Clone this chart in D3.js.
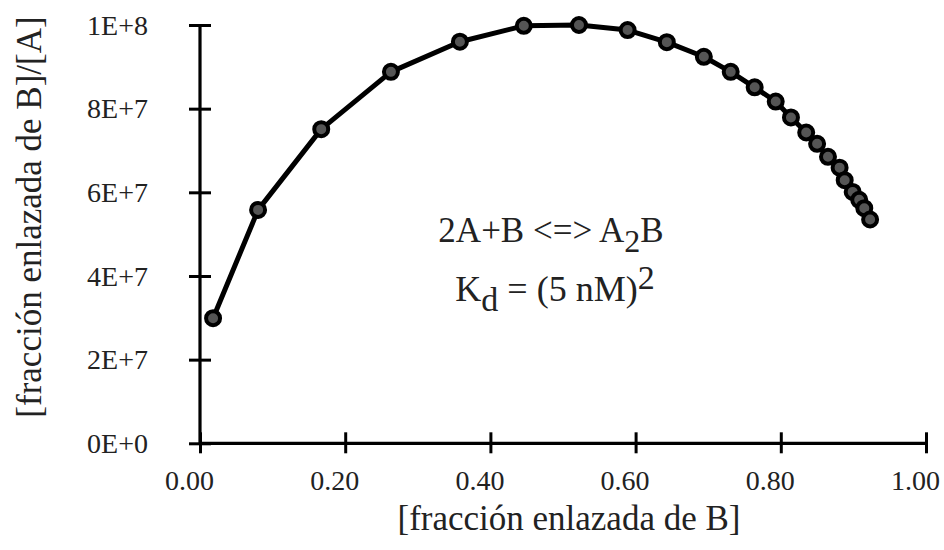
<!DOCTYPE html>
<html>
<head>
<meta charset="utf-8">
<script src="https://cdn.jsdelivr.net/npm/d3@7"></script>
<style>
  html, body { margin: 0; padding: 0; background: #fff; }
  svg text { font-family: "Liberation Serif", "Times New Roman", serif; fill: #222; }
</style>
</head>
<body>
<svg id="chart" width="944" height="550"></svg>
<script>
// Fraction of B bound (x) and bound fraction divided by free [A] (y)
const fractionBound = [0.018, 0.080, 0.167, 0.263, 0.358, 0.446, 0.522, 0.589, 0.643, 0.694,
  0.731, 0.764, 0.793, 0.814, 0.835, 0.850, 0.865, 0.881, 0.888, 0.899, 0.908, 0.915, 0.923];
const boundOverA = [2.99e7, 5.58e7, 7.51e7, 8.88e7, 9.60e7, 9.98e7, 1.0e8, 9.88e7, 9.59e7, 9.24e7,
  8.88e7, 8.51e7, 8.17e7, 7.79e7, 7.43e7, 7.16e7, 6.85e7, 6.59e7, 6.29e7, 6.01e7, 5.82e7, 5.62e7, 5.35e7];

const xTicks = [0, 0.2, 0.4, 0.6, 0.8, 1.0];
const yTicks = [0, 2e7, 4e7, 6e7, 8e7, 1e8];
const yTickLabels = ["0E+0", "2E+7", "4E+7", "6E+7", "8E+7", "1E+8"];

const xTitle = "[fracción enlazada de B]";
const yTitle = "[fracción enlazada de B]/[A]";

const svg = d3.select("#chart");
const plotLeft = 200, plotRight = 926, plotTop = 25, plotBottom = 443.3;

const x = d3.scaleLinear().domain([0, 1]).range([plotLeft, plotRight]);
const y = d3.scaleLinear().domain([0, 1e8]).range([plotBottom, plotTop]);

// Axes: ticks cross the axis line on both sides
const xAxis = d3.axisBottom(x).tickValues(xTicks).tickSize(0).tickFormat(d3.format(".2f"));
const yAxis = d3.axisLeft(y).tickValues(yTicks).tickSize(0)
  .tickFormat(d => yTickLabels[yTicks.indexOf(d)]);

const gx = svg.append("g").attr("transform", `translate(0,${plotBottom})`).call(xAxis);
gx.select(".domain").remove();
gx.selectAll(".tick text").attr("dy", null).attr("y", 47).attr("x", -11)
  .style("font-size", "28px").style("font-family", "Liberation Serif").attr("fill", "#333");
gx.selectAll(".tick").append("line").attr("y1", -11).attr("y2", 10)
  .attr("stroke", "#000").attr("stroke-width", 3);

const gy = svg.append("g").attr("transform", `translate(${plotLeft},0)`).call(yAxis);
gy.select(".domain").remove();
gy.selectAll(".tick text").attr("x", -52).attr("dy", "0.33em")
  .style("font-size", "28px").style("font-family", "Liberation Serif")
  .attr("text-anchor", "end").attr("fill", "#333");
gy.selectAll(".tick").append("line").attr("x1", -11).attr("x2", 11)
  .attr("stroke", "#000").attr("stroke-width", 3);

svg.append("line").attr("x1", plotLeft).attr("x2", plotRight).attr("y1", plotBottom).attr("y2", plotBottom)
  .attr("stroke", "#000").attr("stroke-width", 3.2);
svg.append("line").attr("x1", plotLeft).attr("x2", plotLeft).attr("y1", plotTop).attr("y2", plotBottom)
  .attr("stroke", "#000").attr("stroke-width", 3.2);

// Data line and markers
const pts = fractionBound.map((v, i) => [v, boundOverA[i]]);
svg.append("path").datum(pts)
  .attr("d", d3.line().x(d => x(d[0])).y(d => y(d[1])))
  .attr("fill", "none").attr("stroke", "#000").attr("stroke-width", 5)
  .attr("stroke-linejoin", "round");

svg.append("g").selectAll("circle").data(pts).join("circle")
  .attr("cx", d => x(d[0])).attr("cy", d => y(d[1])).attr("r", 7)
  .attr("fill", "#555").attr("stroke", "#000").attr("stroke-width", 4);

// Axis titles
svg.append("text").attr("x", 569).attr("y", 530).attr("text-anchor", "middle")
  .style("font-size", "35px").text(xTitle);
svg.append("text").attr("transform", "translate(41,217) rotate(-90)")
  .attr("text-anchor", "middle").style("font-size", "35px").text(yTitle);

// Reaction annotation
const t1 = svg.append("text").attr("x", 551).attr("y", 242).attr("text-anchor", "middle")
  .style("font-size", "35px");
t1.append("tspan").text("2A+B <=> A");
t1.append("tspan").attr("dy", 10).style("font-size", "32px").text("2");
t1.append("tspan").attr("dy", -10).text("B");

const t2 = svg.append("text").attr("x", 555).attr("y", 301).attr("text-anchor", "middle")
  .style("font-size", "36px");
t2.append("tspan").text("K");
t2.append("tspan").attr("dy", 10).style("font-size", "34px").text("d");
t2.append("tspan").attr("dy", -10).text(" = (5 nM)");
t2.append("tspan").attr("dy", -12).style("font-size", "34px").text("2");
</script>
</body>
</html>
